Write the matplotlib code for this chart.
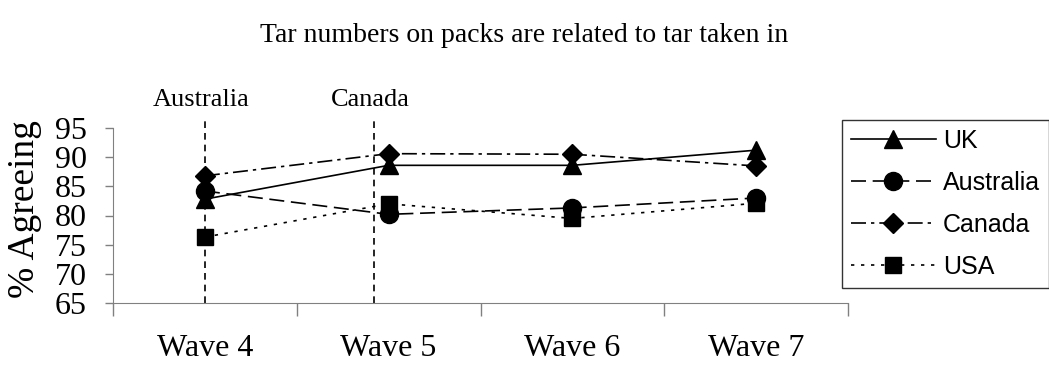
import matplotlib.pyplot as plt
from matplotlib.transforms import Bbox, TransformedBbox

plt.rcParams['font.family'] = ['Liberation Serif', 'DejaVu Serif']

# data
waves = ['Wave 4', 'Wave 5', 'Wave 6', 'Wave 7']
uk = [82.8, 88.6, 88.6, 91.2]
australia = [84.2, 80.2, 81.3, 83.0]
canada = [86.8, 90.6, 90.5, 88.5]
usa = [76.3, 82.0, 79.5, 82.1]
yticks = [65, 70, 75, 80, 85, 90, 95]

# policy markers (position along the wave axis)
events = ['Australia', 'Canada']
event_pos = [0.0, 0.92]

fig = plt.figure(figsize=(10.49, 3.69), dpi=100)
ax = fig.add_axes([113/1049, 1 - 303/369, 735/1049, 175/369])

x = list(range(len(waves)))
ms = 13
ax.plot(x, uk, color='black', linestyle='-', lw=1.2, marker='^', ms=ms, label='UK', clip_on=False)
ax.plot(x, australia, color='black', linestyle=(0, (9, 4)), lw=1.2, marker='o', ms=ms, label='Australia', clip_on=False)
ax.plot(x, canada, color='black', linestyle=(0, (9, 3, 2, 3)), lw=1.2, marker='D', ms=ms*0.75, label='Canada', clip_on=False)
ax.plot(x, usa, color='black', linestyle=(0, (2, 4)), lw=1.2, marker='s', ms=ms*0.9, label='USA', clip_on=False)

for name, p in zip(events, event_pos):
    ax.plot([p, p], [65, 96.9], color='black', linestyle=(0, (4, 3)), lw=1.2, clip_on=False)
    ax.text(p - 0.02, 98.0, name, ha='center', va='bottom', fontsize=19)

ax.set_xlim(-0.5, len(waves) - 0.5)
ax.set_ylim(65, 95)
ax.set_yticks(yticks)
ax.tick_params(axis='y', labelsize=23, length=6, width=1, color='#808080', pad=13)

ax.set_xticks([i - 0.5 for i in range(len(waves) + 1)])
ax.set_xticklabels([])
ax.set_xticks(x, minor=True)
ax.set_xticklabels(waves, minor=True)
ax.tick_params(axis='x', which='major', length=9, width=1, color='#808080')
ax.tick_params(axis='x', which='minor', length=0, labelsize=23, pad=22)

for s in ['top', 'right']:
    ax.spines[s].set_visible(False)
for s in ['left', 'bottom']:
    ax.spines[s].set_color('#808080')

fig.text(0.5, 1 - 35/369, 'Tar numbers on packs are related to tar taken in',
         ha='center', va='center', fontsize=20)

# the reference clips the top of the y label
ylab = fig.text(25/1049, 1 - 298/369, '% Agreeing', rotation=90, ha='center', va='bottom',
                fontsize=27, clip_on=True)
ylab.set_clip_box(TransformedBbox(Bbox([[0, 0], [1, 1 - 121/369]]), fig.transFigure))

leg = fig.legend(loc='upper left', bbox_to_anchor=(842/1049, 1 - 120/369),
                 frameon=True, fancybox=False, borderaxespad=0, handlelength=3.4,
                 handletextpad=0.3, labelspacing=0.72, borderpad=0.35,
                 prop={'family': 'Liberation Sans', 'size': 18})
leg.get_frame().set_edgecolor('black')
leg.get_frame().set_linewidth(1)

fig.savefig('out.png', dpi=100)
